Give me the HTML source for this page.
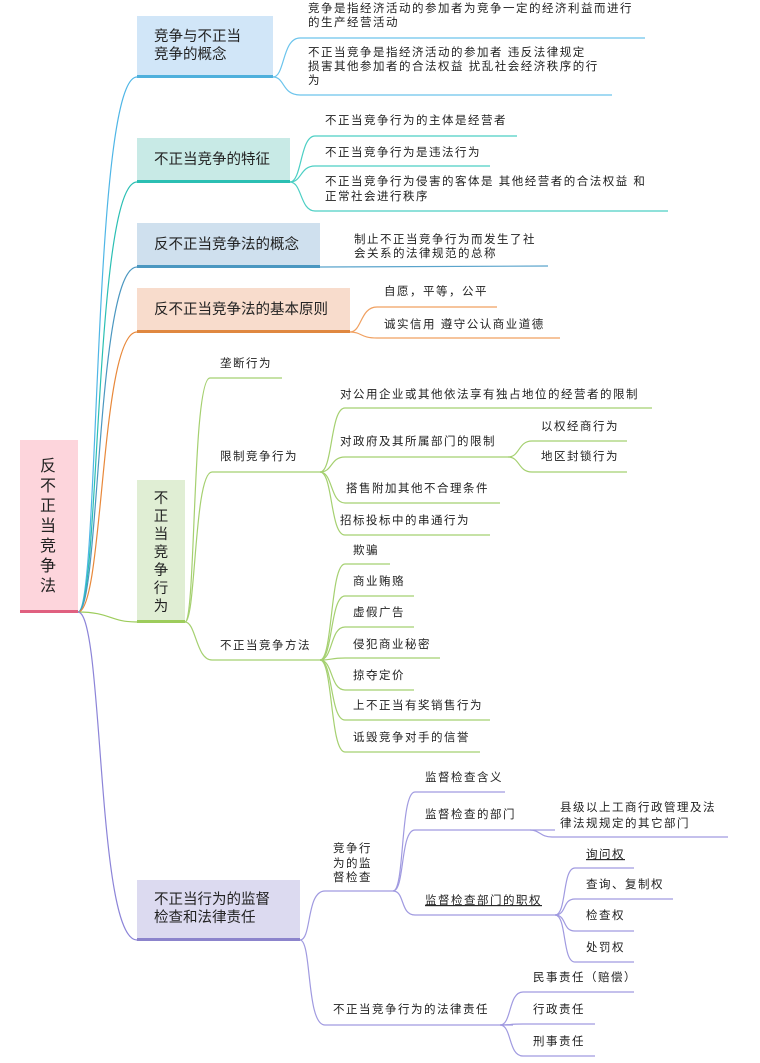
<!DOCTYPE html>
<html><head><meta charset="utf-8"><style>
html,body{margin:0;padding:0;background:#fff;}
svg{display:block;}
text{font-family:"Liberation Sans","Noto Sans CJK SC",sans-serif;fill:#222;}
.l{font-size:11.5px;letter-spacing:1.5px;dominant-baseline:middle;}
.m{font-size:14.5px;dominant-baseline:middle;fill:#222;}
path{fill:none;stroke-width:1.2;}
</style></head><body>
<svg width="760" height="1063" viewBox="0 0 760 1063" xmlns="http://www.w3.org/2000/svg">
<path d="M78 612 C100 612 92 77 137 77" stroke="#4fb6e6" stroke-width="2"/>
<path d="M78 612 C100 612 94 182 137 182" stroke="#2bbfb3" stroke-width="2"/>
<path d="M78 612 C100 612 96 267 137 267" stroke="#4b97c0" stroke-width="2"/>
<path d="M78 612 C104 612 100 332 137 332" stroke="#e8883a" stroke-width="2"/>
<path d="M78 612 C110 612 110 622 137 622" stroke="#9dcc5c" stroke-width="2.5"/>
<path d="M78 612 C104 612 96 940 137 940" stroke="#8c84d8" stroke-width="2"/>

<rect x="20" y="440" width="58" height="172" fill="#fdd5dc"/>
<rect x="20" y="610" width="58" height="3" fill="#e06080"/>
<text font-size="16" text-anchor="middle">
<tspan x="48" y="471">反</tspan><tspan x="48" y="491">不</tspan><tspan x="48" y="511">正</tspan><tspan x="48" y="531">当</tspan><tspan x="48" y="551">竞</tspan><tspan x="48" y="571">争</tspan><tspan x="48" y="591">法</tspan></text>

<rect x="137" y="16" width="136" height="61" fill="#d1e6f8"/>
<rect x="137" y="75" width="136" height="3" fill="#4fb0dc"/>
<text class="m"><tspan x="154" y="37">竞争与不正当</tspan><tspan x="154" y="55">竞争的概念</tspan></text>
<path d="M273 77 C285 77 282 38 300 38 L645 38" stroke="#6cc4ec"/>
<path d="M273 77 C285 77 282 95 300 95 L612 95" stroke="#6cc4ec"/>
<text class="l"><tspan x="308" y="9">竞争是指经济活动的参加者为竞争一定的经济利益而进行</tspan><tspan x="308" y="23">的生产经营活动</tspan></text>
<text class="l"><tspan x="308" y="53">不正当竞争是指经济活动的参加者 违反法律规定</tspan><tspan x="308" y="67">损害其他参加者的合法权益 扰乱社会经济秩序的行</tspan><tspan x="308" y="81">为</tspan></text>

<rect x="137" y="138" width="153" height="44" fill="#c8eae6"/>
<rect x="137" y="180" width="153" height="3" fill="#2bbfb3"/>
<text class="m" x="154" y="160">不正当竞争的特征</text>
<path d="M290 182 C302 182 300 136 315 136 L517 136" stroke="#4ccfc4"/>
<path d="M290 182 C302 182 300 166 315 166 L490 166" stroke="#4ccfc4"/>
<path d="M290 182 C302 182 300 211 315 211 L668 211" stroke="#4ccfc4"/>
<text class="l" x="325" y="121">不正当竞争行为的主体是经营者</text>
<text class="l" x="325" y="153">不正当竞争行为是违法行为</text>
<text class="l"><tspan x="325" y="182">不正当竞争行为侵害的客体是 其他经营者的合法权益 和</tspan><tspan x="325" y="197">正常社会进行秩序</tspan></text>

<rect x="137" y="223" width="183" height="44" fill="#cfe0ee"/>
<rect x="137" y="265" width="183" height="3" fill="#4b97c0"/>
<text class="m" x="154" y="245">反不正当竞争法的概念</text>
<path d="M320 267 L548 266" stroke="#5aa4cc"/>
<text class="l"><tspan x="354" y="240">制止不正当竞争行为而发生了社</tspan><tspan x="354" y="254">会关系的法律规范的总称</tspan></text>

<rect x="137" y="288" width="213" height="44" fill="#f8dccc"/>
<rect x="137" y="330" width="213" height="3" fill="#e08840"/>
<text class="m" x="154" y="310">反不正当竞争法的基本原则</text>
<path d="M350 332 C362 332 360 307 377 307 L497 307" stroke="#f0a060"/>
<path d="M350 332 C362 332 360 338 377 338 L560 338" stroke="#f0a060"/>
<text class="l" x="384" y="292">自愿，平等，公平</text>
<text class="l" x="384" y="325">诚实信用 遵守公认商业道德</text>

<rect x="137" y="480" width="48" height="142" fill="#e0eed4"/>
<rect x="137" y="620" width="48" height="3" fill="#9dcc5c"/>
<text font-size="14.5" text-anchor="middle"><tspan x="161" y="503">不</tspan><tspan x="161" y="521">正</tspan><tspan x="161" y="539">当</tspan><tspan x="161" y="557">竞</tspan><tspan x="161" y="575">争</tspan><tspan x="161" y="593">行</tspan><tspan x="161" y="611">为</tspan></text>
<g stroke="#a5d070">
<path d="M185 622 C196 622 192 378 210 378 L282 378"/>
<path d="M185 622 C196 622 194 472 212 472 L320 472"/>
<path d="M185 622 C196 622 196 660 212 660 L320 660"/>
<path d="M320 472 C333 472 330 408 345 408 L652 408"/>
<path d="M320 472 C333 472 330 457 345 457 L508 457"/>
<path d="M320 472 C333 472 330 503 345 503 L500 503"/>
<path d="M320 472 C333 472 330 535 345 535 L490 535"/>
<path d="M508 457 C520 457 518 441 532 441 L627 441"/>
<path d="M508 457 C520 457 518 472 532 472 L627 472"/>
<path d="M320 660 C333 660 330 564 345 564 L390 564"/>
<path d="M320 660 C333 660 330 596 345 596 L414 596"/>
<path d="M320 660 C333 660 330 627 345 627 L414 627"/>
<path d="M320 660 C333 660 330 658 345 658 L440 658"/>
<path d="M320 660 C333 660 330 690 345 690 L414 690"/>
<path d="M320 660 C333 660 330 720 345 720 L490 720"/>
<path d="M320 660 C333 660 330 752 345 752 L480 752"/>
</g>
<text class="l" x="220" y="364">垄断行为</text>
<text class="l" x="220" y="457">限制竞争行为</text>
<text class="l" x="220" y="646">不正当竞争方法</text>
<text class="l" x="340" y="395">对公用企业或其他依法享有独占地位的经营者的限制</text>
<text class="l" x="340" y="442">对政府及其所属部门的限制</text>
<text class="l" x="346" y="489">搭售附加其他不合理条件</text>
<text class="l" x="340" y="521">招标投标中的串通行为</text>
<text class="l" x="541" y="427">以权经商行为</text>
<text class="l" x="541" y="457">地区封锁行为</text>
<text class="l" x="353" y="551">欺骗</text>
<text class="l" x="353" y="582">商业贿赂</text>
<text class="l" x="353" y="613">虚假广告</text>
<text class="l" x="353" y="645">侵犯商业秘密</text>
<text class="l" x="353" y="676">掠夺定价</text>
<text class="l" x="353" y="706">上不正当有奖销售行为</text>
<text class="l" x="353" y="738">诋毁竞争对手的信誉</text>

<rect x="137" y="880" width="163" height="60" fill="#dcdaf0"/>
<rect x="137" y="938" width="163" height="3" fill="#8c84cc"/>
<text class="m"><tspan x="154" y="900">不正当行为的监督</tspan><tspan x="154" y="918">检查和法律责任</tspan></text>
<g stroke="#a09ae0">
<path d="M300 940 C312 940 306 891 325 891 L393 891"/>
<path d="M300 940 C312 940 306 1025 325 1025 L513 1025"/>
<path d="M393 891 C405 891 400 792 415 792 L505 792"/>
<path d="M393 891 C405 891 400 830 415 830 L555 830"/>
<path d="M393 891 C405 891 400 915 415 915 L555 915"/>
<path d="M530 830 C540 830 540 837 552 837 L728 837"/>
<path d="M555 915 C567 915 562 868 575 868 L634 868"/>
<path d="M555 915 C567 915 562 899 575 899 L673 899"/>
<path d="M555 915 C567 915 562 931 575 931 L634 931"/>
<path d="M555 915 C567 915 562 962 575 962 L634 962"/>
<path d="M500 1025 C512 1025 508 992 523 992 L634 992"/>
<path d="M500 1025 C512 1025 508 1024 523 1024 L595 1024"/>
<path d="M500 1025 C512 1025 508 1056 523 1056 L595 1056"/>
</g>
<text class="l"><tspan x="333" y="849">竞争行</tspan><tspan x="333" y="864">为的监</tspan><tspan x="333" y="878">督检查</tspan></text>
<text class="l" x="333" y="1010">不正当竞争行为的法律责任</text>
<text class="l" x="425" y="778">监督检查含义</text>
<text class="l" x="425" y="815">监督检查的部门</text>
<text class="l" x="425" y="901" text-decoration="underline">监督检查部门的职权</text>
<text class="l"><tspan x="560" y="808">县级以上工商行政管理及法</tspan><tspan x="560" y="824">律法规规定的其它部门</tspan></text>
<text class="l" x="586" y="855" text-decoration="underline">询问权</text>
<text class="l" x="586" y="885">查询、复制权</text>
<text class="l" x="586" y="916">检查权</text>
<text class="l" x="586" y="948">处罚权</text>
<text class="l" x="533" y="978">民事责任（赔偿）</text>
<text class="l" x="533" y="1010">行政责任</text>
<text class="l" x="533" y="1042">刑事责任</text>
</svg>
</body></html>
